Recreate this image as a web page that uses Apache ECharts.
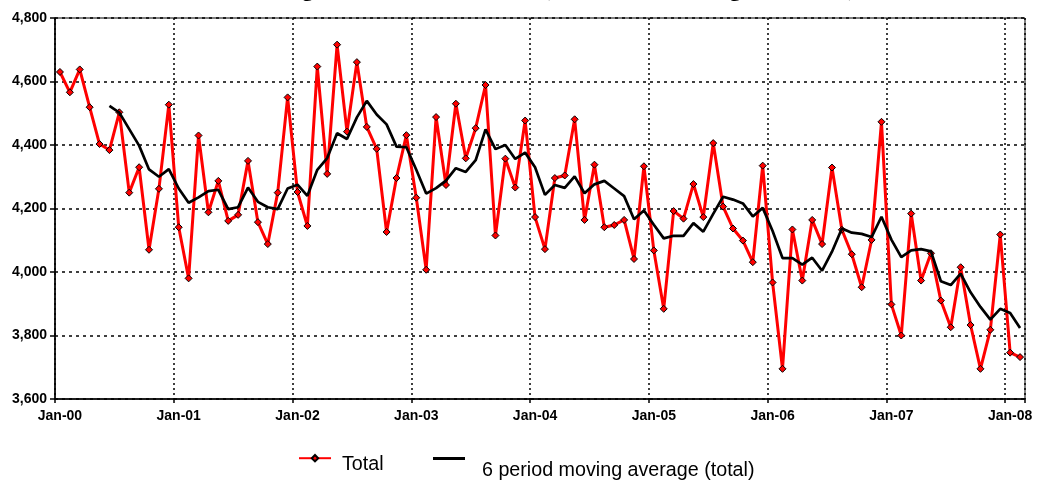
<!DOCTYPE html>
<html>
<head>
<meta charset="utf-8">
<script src="https://cdn.jsdelivr.net/npm/echarts@6/dist/echarts.min.js"></script>
<style>
html,body{margin:0;padding:0;background:#fff;}
#chart{width:1037px;height:481px;}
</style>
</head>
<body>
<div id="chart"></div>
<script>
const titleText = 'Total Housing Starts Across Australia (Number of Dwelling Units Built)';
const monthNames = ['Jan','Feb','Mar','Apr','May','Jun','Jul','Aug','Sep','Oct','Nov','Dec'];
const yearSuffixes = ['00','01','02','03','04','05','06','07','08'];
const monthCount = 98;
const categories = [];
for (let i = 0; i < monthCount; i++) {
  categories.push(monthNames[i % 12] + '-' + yearSuffixes[Math.floor(i / 12)]);
}
const yTicks = [3600, 3800, 4000, 4200, 4400, 4600, 4800];

const totalName = 'Total';
const totalValues = [
  4630, 4566, 4638, 4519, 4403, 4384, 4503, 4250, 4330, 4070, 4262, 4527,
  4141, 3980, 4430, 4188, 4287, 4161, 4180, 4350, 4157, 4088, 4250, 4550,
  4252, 4145, 4647, 4309, 4716, 4442, 4661, 4457, 4388, 4126, 4296, 4431,
  4234, 4007, 4488, 4274, 4530, 4358, 4453, 4589, 4115, 4357, 4266, 4477,
  4173, 4072, 4296, 4304, 4481, 4164, 4338, 4141, 4148, 4164, 4041, 4333,
  4068, 3884, 4192, 4168, 4277, 4173, 4406, 4206, 4137, 4099, 4031, 4335,
  3967, 3695, 4134, 3973, 4164, 4088, 4329, 4133, 4056, 3952, 4101, 4473,
  3898, 3800, 4184, 3973, 4059, 3910, 3826, 4015, 3833, 3695, 3818, 4118,
  3746, 3732
];

const maName = '6 period moving average (total)';
const maValues = [
  null, null, null, null, null, 4523, 4502, 4450, 4398, 4323, 4300, 4324,
  4263, 4218, 4235, 4255, 4259, 4198, 4204, 4266, 4221, 4204, 4198, 4263,
  4275, 4240, 4322, 4359, 4437, 4419, 4487, 4539, 4496, 4465, 4395, 4393,
  4322, 4247, 4264, 4288, 4327, 4315, 4352, 4449, 4387, 4400, 4356, 4376,
  4330, 4243, 4274, 4265, 4301, 4248, 4276, 4287, 4263, 4239, 4166, 4194,
  4149, 4106, 4114, 4114, 4154, 4127, 4183, 4237, 4228, 4216, 4175, 4202,
  4129, 4044, 4044, 4023, 4045, 4004, 4064, 4137, 4124, 4120, 4110, 4174,
  4102, 4047, 4068, 4072, 4065, 3971, 3959, 3995, 3936, 3890, 3850, 3884,
  3871, 3824
];

const chart = echarts.init(document.getElementById('chart'), null, {renderer: 'canvas'});
const sans = '"Liberation Sans", Arial, sans-serif';
const legendFont = {fontFamily: sans, fontSize: 19.7, color: '#000'};

chart.setOption({
  animation: false,
  backgroundColor: '#ffffff',
  title: {
    text: titleText,
    left: 'center',
    top: -26,
    textStyle: {fontFamily: '"Liberation Serif", "Times New Roman", serif', fontWeight: 'bold', fontSize: 22, color: '#000'}
  },
  grid: {
    left: 55, right: 12, top: 18, bottom: 82,
    show: true, borderColor: '#000', borderWidth: 1, backgroundColor: 'transparent'
  },
  legend: [
    {
      data: [totalName],
      left: 298, top: 454,
      padding: 0,
      itemWidth: 32, itemHeight: 8,
      formatter: '{t|{name}}',
      textStyle: Object.assign({padding: [12, 0, 0, 6], rich: {t: legendFont}}, legendFont)
    },
    {
      data: [{name: maName, icon: 'rect'}],
      left: 433, top: 457,
      padding: 0,
      itemWidth: 32, itemHeight: 3,
      formatter: '{t|{name}}',
      textStyle: Object.assign({padding: [24, 0, 0, 12], rich: {t: legendFont}}, legendFont)
    }
  ],
  xAxis: {
    type: 'category',
    data: categories,
    boundaryGap: true,
    axisLine: {show: true, lineStyle: {color: '#000', width: 1.5}},
    axisTick: {show: true, interval: 11, length: 4, lineStyle: {color: '#000', width: 1.5}},
    axisLabel: {interval: 11, margin: 10, fontFamily: sans, fontWeight: 'bold', fontSize: 14, color: '#000'},
    splitLine: {show: true, interval: 11, lineStyle: {color: '#000', type: [2, 3], width: 1.5}}
  },
  yAxis: {
    type: 'value',
    min: yTicks[0], max: yTicks[yTicks.length - 1], interval: 200,
    axisLine: {show: true, lineStyle: {color: '#000', width: 1.5}},
    axisTick: {show: true, length: 5, lineStyle: {color: '#000', width: 1.5}},
    axisLabel: {
      margin: 8, fontFamily: sans, fontWeight: 'bold', fontSize: 14, color: '#000',
      formatter: v => v.toLocaleString('en-US')
    },
    splitLine: {show: true, lineStyle: {color: '#000', type: [3, 4], width: 1.5}}
  },
  series: [
    {
      name: totalName,
      type: 'line',
      data: totalValues,
      symbol: 'diamond',
      symbolSize: 7,
      showAllSymbol: true,
      lineStyle: {color: '#ff0000', width: 3},
      itemStyle: {color: '#ff0000', borderColor: '#000', borderWidth: 1},
      z: 2
    },
    {
      name: maName,
      type: 'line',
      data: maValues,
      symbol: 'none',
      connectNulls: false,
      lineStyle: {color: '#000', width: 2.7},
      itemStyle: {color: '#000'},
      z: 3
    }
  ]
});
</script>
</body>
</html>
